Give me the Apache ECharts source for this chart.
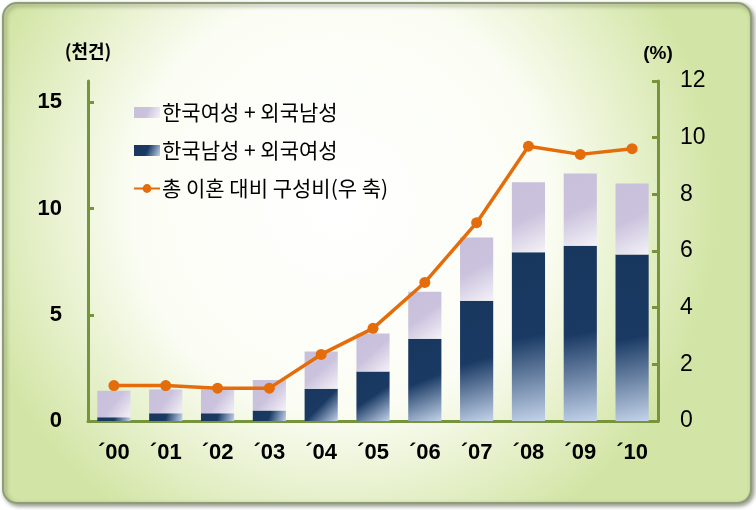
<!DOCTYPE html>
<html><head><meta charset="utf-8">
<script src="https://cdn.jsdelivr.net/npm/echarts@6/dist/echarts.min.js"></script>
<style>html,body{margin:0;padding:0;background:#fff}#c{width:756px;height:510px}</style>
</head><body><div id="c"></div>
<script>
const categories = ['´00','´01','´02','´03','´04','´05','´06','´07','´08','´09','´10'];
// 한국남성 + 외국여성 (천건)
const koreanMaleForeignFemale = [0.18,0.36,0.36,0.50,1.52,2.33,3.87,5.66,7.94,8.25,7.83];
// 한국여성 + 외국남성 (천건)
const koreanFemaleForeignMale = [1.24,1.12,1.14,1.43,1.75,1.79,2.21,2.97,3.29,3.40,3.35];
// 총 이혼 대비 구성비 (%)
const shareOfTotal = [1.25,1.25,1.16,1.16,2.35,3.27,4.89,7.00,9.70,9.41,9.61];
const leftTicks = [0,5,10,15];

const green = '#77933C';
const chart = echarts.init(document.getElementById('c'), null, {renderer:'canvas'});
const korFont = '"Noto Sans CJK KR", "Noto Sans", sans-serif';
const numFont = 'Arial, "Liberation Sans", sans-serif';
chart.setOption({
  animation:false,
  backgroundColor:'#ffffff',
  graphic:[{
    type:'rect', z:-10, left:2, top:2,
    shape:{width:748, height:500, r:14},
    style:{
      fill:new echarts.graphic.RadialGradient(0.45,0.4,0.75,[
        {offset:0,color:'#ffffff'},{offset:0.55,color:'#fbfdf4'},{offset:1,color:'#d3e5a6'}]),
      stroke:'#8f9c78', lineWidth:2,
      shadowBlur:4, shadowOffsetX:2, shadowOffsetY:2, shadowColor:'rgba(60,70,40,0.55)'
    }
  }],
  grid:{left:88, right:98, top:81, bottom:89, containLabel:false},
  legend:{
    orient:'vertical', left:128, top:97, itemGap:17, itemWidth:26, itemHeight:11,
    textStyle:{fontFamily:korFont, fontSize:21, color:'#000', padding:[0,0,0,-3]},
    data:[{name:'한국여성 + 외국남성', icon:'rect'},{name:'한국남성 + 외국여성', icon:'rect'},{name:'총 이혼 대비 구성비(우 축)'}]
  },
  xAxis:{
    type:'category', data:categories,
    axisLine:{lineStyle:{color:green, width:3}},
    axisTick:{show:false},
    axisLabel:{fontFamily:numFont, fontWeight:'bold', fontSize:22, color:'#000', margin:21}
  },
  yAxis:[{
    type:'value', min:0, max:16, position:'left',
    name:'(천건)', nameLocation:'end', nameGap:21,
    nameTextStyle:{fontFamily:korFont, fontWeight:'bold', fontSize:18, color:'#000', align:'center'},
    axisLine:{show:true, lineStyle:{color:green, width:3}},
    axisTick:{show:true, inside:true, length:6, lineStyle:{color:green, width:3}, customValues:leftTicks},
    axisLabel:{fontFamily:numFont, fontWeight:'bold', fontSize:22, color:'#000', margin:26, customValues:leftTicks},
    splitLine:{show:false}
  },{
    type:'value', min:0, max:12, interval:2, position:'right',
    name:'(%)', nameLocation:'end', nameGap:18,
    nameTextStyle:{fontFamily:numFont, fontWeight:'bold', fontSize:19, color:'#000', align:'center'},
    axisLine:{show:true, lineStyle:{color:green, width:3}},
    axisTick:{show:true, inside:true, length:6, lineStyle:{color:green, width:3}},
    axisLabel:{fontFamily:'"Liberation Sans Narrow", "Arial Narrow", Arial, sans-serif', fontSize:23, color:'#000', margin:22},
    splitLine:{show:false}
  }],
  series:[{
    name:'한국남성 + 외국여성', type:'bar', stack:'a', barWidth:'64%',
    data:koreanMaleForeignFemale,
    itemStyle:{color:new echarts.graphic.LinearGradient(0,0,1,1,[
      {offset:0,color:'#17375E'},{offset:0.5,color:'#1a3a64'},{offset:1,color:'#c3d3ea'}])}
  },{
    name:'한국여성 + 외국남성', type:'bar', stack:'a', barWidth:'64%',
    data:koreanFemaleForeignMale,
    itemStyle:{color:new echarts.graphic.LinearGradient(0,0,1,1,[
      {offset:0,color:'#c8bfdb'},{offset:0.5,color:'#cbc3dd'},{offset:1,color:'#f4f2f8'}])}
  },{
    name:'총 이혼 대비 구성비(우 축)', type:'line', yAxisIndex:1,
    data:shareOfTotal, symbol:'circle', symbolSize:11,
    lineStyle:{color:'#E46C0A', width:3.5},
    itemStyle:{color:'#E46C0A'}
  }]
});
</script></body></html>
